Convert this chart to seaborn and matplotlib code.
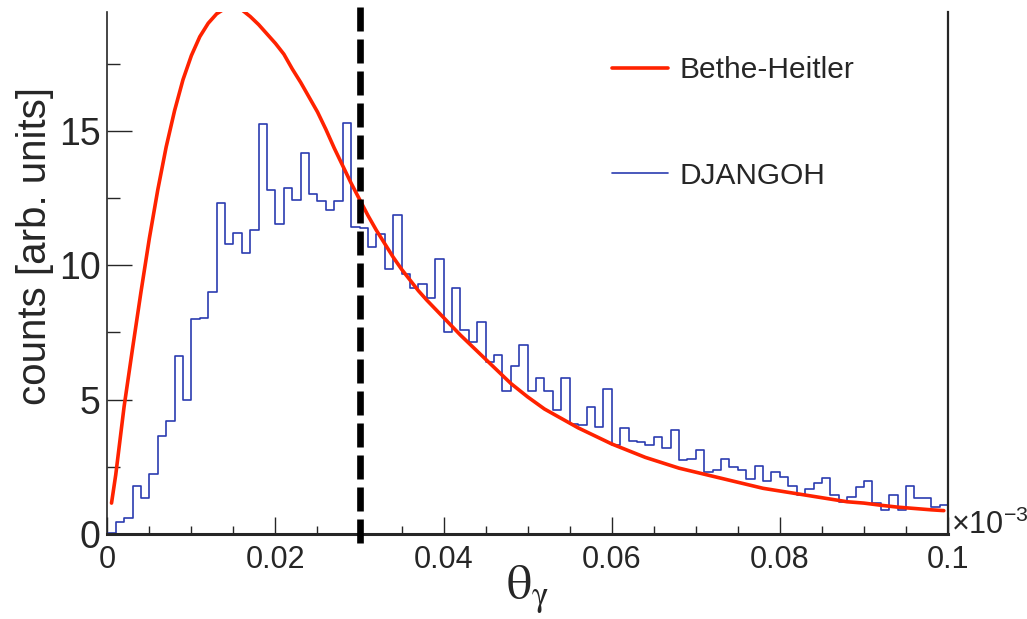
import numpy as np
import pandas as pd
import matplotlib
matplotlib.use("Agg")
import matplotlib.pyplot as plt
from matplotlib.ticker import MultipleLocator
import seaborn as sns

# DJANGOH histogram: 100 bins from 0 to 0.1 (x 1e-3)
bin_edges = np.linspace(0, 0.1, 101)
djangoh_counts = [
    0.03, 0.46, 0.58, 1.80, 1.35, 2.24, 3.66, 4.22, 6.63, 5.00,
    7.99, 8.04, 9.00, 12.30, 10.79, 11.20, 10.45, 11.31, 15.25, 12.79,
    11.53, 12.88, 12.44, 14.19, 12.65, 12.38, 12.05, 12.38, 15.30, 11.43,
    11.40, 10.69, 11.15, 9.85, 11.88, 9.66, 9.16, 9.29, 8.77, 10.24,
    7.53, 9.16, 7.59, 7.13, 7.87, 6.40, 6.65, 5.33, 6.25, 7.04,
    5.33, 5.79, 5.33, 4.61, 5.79, 4.08, 4.06, 4.72, 3.98, 5.39,
    3.31, 3.93, 3.46, 3.41, 3.31, 3.60, 3.19, 3.88, 2.74, 2.80,
    3.14, 2.31, 2.37, 2.80, 2.48, 2.38, 2.06, 2.52, 1.97, 2.32,
    2.13, 1.79, 1.45, 1.66, 1.89, 2.07, 1.45, 1.20, 1.39, 1.76,
    1.97, 1.17, 0.89, 1.45, 0.89, 1.79, 1.33, 1.33, 0.99, 1.07,
]

# Bethe-Heitler curve
bh_theta = [0.0005, 0.001, 0.002, 0.003, 0.004, 0.005, 0.006, 0.007, 0.008, 0.009,
            0.010, 0.011, 0.012, 0.013, 0.014, 0.015, 0.016, 0.017, 0.018, 0.019,
            0.020, 0.021, 0.022, 0.023, 0.024, 0.025, 0.026, 0.027, 0.028, 0.029,
            0.030, 0.031, 0.032, 0.033, 0.034, 0.035, 0.036, 0.037, 0.038, 0.040,
            0.042, 0.044, 0.046, 0.048, 0.050, 0.052, 0.054, 0.056, 0.058, 0.060,
            0.062, 0.064, 0.066, 0.068, 0.070, 0.072, 0.074, 0.076, 0.078, 0.080,
            0.082, 0.084, 0.086, 0.088, 0.090, 0.092, 0.094, 0.096, 0.098, 0.0995]
bh_counts = [1.15, 2.2, 4.75, 6.9, 9.0, 11.0, 12.8, 14.4, 15.75, 16.9,
             17.8, 18.5, 19.0, 19.35, 19.55, 19.6, 19.5, 19.25, 18.95, 18.6,
             18.25, 17.85, 17.3, 16.8, 16.25, 15.7, 15.05, 14.35, 13.7, 13.05,
             12.45, 11.85, 11.3, 10.8, 10.3, 9.85, 9.45, 9.05, 8.7, 8.05,
             7.4, 6.8, 6.2, 5.6, 5.1, 4.65, 4.3, 3.95, 3.65, 3.35,
             3.1, 2.85, 2.65, 2.45, 2.3, 2.15, 2.0, 1.85, 1.7, 1.6,
             1.5, 1.4, 1.3, 1.2, 1.15, 1.07, 1.0, 0.95, 0.9, 0.87]

theta_cut = 0.03
xtick_vals = [0, 0.02, 0.04, 0.06, 0.08, 0.1]
xtick_labels = ["0", "0.02", "0.04", "0.06", "0.08", "0.1"]
ytick_vals = [0, 5, 10, 15]
ytick_labels = ["0", "5", "10", "15"]

sns.set_style("ticks")
plt.rcParams["font.family"] = ["Liberation Sans", "DejaVu Sans"]
plt.rcParams["mathtext.fontset"] = "custom"
plt.rcParams["mathtext.rm"] = "Liberation Sans"

red = "#ff2200"
blue = "#2b3cb0"

fig = plt.figure(figsize=(10.27, 6.19), dpi=100)
ax = fig.add_axes([0.1045, 0.1373, 0.8186, 0.8438])

hist_df = pd.DataFrame({
    "theta": (bin_edges[:-1] + bin_edges[1:]) / 2,
    "counts": djangoh_counts,
})
sns.histplot(data=hist_df, x="theta", weights="counts", bins=list(bin_edges),
             element="step", fill=False, color=blue, linewidth=1.2,
             label="DJANGOH", ax=ax, zorder=2)
sns.lineplot(x=bh_theta, y=bh_counts, color=red, linewidth=2.6,
             label="Bethe-Heitler", ax=ax, zorder=3)

# cut line, runs past the frame like in the original
ax.axvline(theta_cut, ymin=-0.018, ymax=1.03, color="black", linewidth=4.8,
           dashes=(3.6, 1.2), clip_on=False, zorder=4)

ax.set_xlim(0, 0.1)
ax.set_ylim(0, 19.43)

ax.set_xticks(xtick_vals, labels=xtick_labels)
ax.set_yticks(ytick_vals, labels=ytick_labels)
ax.xaxis.set_minor_locator(MultipleLocator(0.005))
ax.yaxis.set_minor_locator(MultipleLocator(2.5))
ax.tick_params(axis="x", which="major", direction="in", length=12.5, width=1.0,
               labelsize=22, pad=8)
ax.tick_params(axis="x", which="minor", direction="in", length=6, width=1.0)
ax.tick_params(axis="y", which="major", direction="in", length=18, width=1.0,
               labelsize=27, pad=5)
ax.tick_params(axis="y", which="minor", direction="in", length=9.5, width=1.0)

ax.spines["top"].set_visible(False)
ax.spines["left"].set_linewidth(1.2)
ax.spines["bottom"].set_linewidth(2.2)
ax.spines["right"].set_linewidth(1.6)

ax.set_ylabel("counts [arb. units]", fontsize=29)
ax.yaxis.set_label_coords(-0.063, 0.551)
ax.set_xlabel(r"$\mathrm{\theta_{\gamma}}$", fontsize=36, math_fontfamily="stix",
              labelpad=-8)

ax.text(1.004, 0.0, r"×10$^{-3}$", transform=ax.transAxes, fontsize=22,
        ha="left", va="baseline")

handles, labels = ax.get_legend_handles_labels()
order = [labels.index("Bethe-Heitler"), labels.index("DJANGOH")]
ax.legend([handles[i] for i in order], [labels[i] for i in order],
          loc="upper left", bbox_to_anchor=(0.6, 0.915), frameon=False,
          fontsize=21.5, handlelength=1.87, handletextpad=0.4,
          labelspacing=2.6, borderpad=0, borderaxespad=0)

fig.savefig("out.png", dpi=100)
